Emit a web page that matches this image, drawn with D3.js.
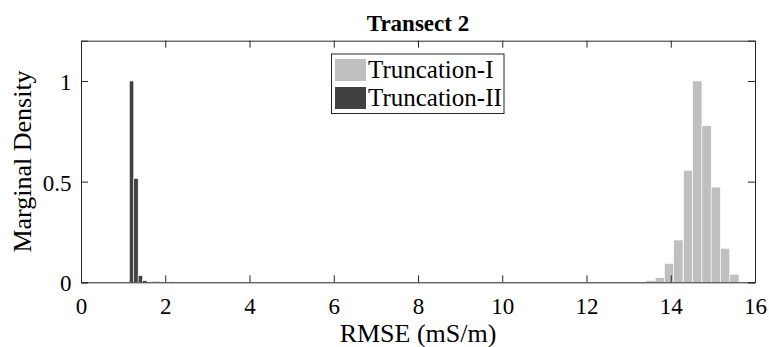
<!DOCTYPE html>
<html>
<head>
<meta charset="utf-8">
<script src="https://cdn.jsdelivr.net/npm/d3@7"></script>
<style>
  html, body { margin: 0; padding: 0; background: #fff; }
  svg { display: block; font-family: "Liberation Serif", "Times New Roman", serif; }
</style>
</head>
<body>
<svg id="chart" width="769" height="347"></svg>
<script>
// Histogram bins: left edge, width and marginal density of each bar
const truncIStart   = [1.68, 2.09, 13.41, 13.63, 13.85, 14.07, 14.30, 14.52, 14.74, 14.96, 15.18, 15.40];
const truncIWidth   = [0.20, 0.10, 0.221, 0.221, 0.221, 0.221, 0.221, 0.221, 0.221, 0.221, 0.221, 0.221];
const truncIDensity = [0.006, 0.005, 0.008, 0.023, 0.094, 0.21, 0.556, 1.0, 0.778, 0.473, 0.169, 0.04];

const truncIIStart   = [1.147, 1.252, 1.357, 1.462];
const truncIIWidth   = [0.105, 0.105, 0.105, 0.105];
const truncIIDensity = [1.0, 0.516, 0.033, 0.008];

const xTicks = [0, 2, 4, 6, 8, 10, 12, 14, 16];
const yTicks = [0, 0.5, 1];
const yTickLabels = ["0", "0.5", "1"];
const seriesNames = ["Truncation-I", "Truncation-II"];
const seriesColors = ["#bfbfbf", "#404040"];

const margin = { left: 81, right: 14, top: 40.7, bottom: 64.7 };
const W = 769, H = 347;
const svg = d3.select("#chart");

const x = d3.scaleLinear().domain([0, 16]).range([margin.left, W - margin.right]);
const y = d3.scaleLinear().domain([0, 1.2]).range([H - margin.bottom, margin.top]);

const axisColor = "#262626";
const tickLen = 7;
const serif = '"Liberation Serif", "Times New Roman", serif';

function bins(starts, widths, dens) {
  return starts.map((s, i) => ({ x0: s, x1: s + widths[i], d: dens[i] }));
}

// Bars
const groups = [
  bins(truncIStart, truncIWidth, truncIDensity),
  bins(truncIIStart, truncIIWidth, truncIIDensity)
];
groups.forEach((data, gi) => {
  svg.append("g").selectAll("rect").data(data).join("rect")
    .attr("x", d => x(d.x0))
    .attr("y", d => y(d.d))
    .attr("width", d => x(d.x1) - x(d.x0))
    .attr("height", d => y(0) - y(d.d))
    .attr("fill", seriesColors[gi])
    .attr("stroke", "#ffffff")
    .attr("stroke-width", 0.6);
});

// Axes (ticks point inward, mirrored on top and right)
const gx = svg.append("g").attr("transform", `translate(0,${y(0)})`)
  .call(d3.axisBottom(x).tickValues(xTicks).tickSize(-tickLen).tickFormat(d3.format("d")));
gx.selectAll(".tick text").attr("y", 32).attr("dy", 0);

const gxTop = svg.append("g").attr("transform", `translate(0,${y(1.2)})`)
  .call(d3.axisTop(x).tickValues(xTicks).tickSize(-tickLen).tickFormat(""));

const gy = svg.append("g").attr("transform", `translate(${x(0)},0)`)
  .call(d3.axisLeft(y).tickValues(yTicks).tickSize(-tickLen).tickFormat((d, i) => yTickLabels[i]));
gy.selectAll(".tick text").attr("x", -9.5).attr("dy", 0).attr("y", 8.5);

const gyRight = svg.append("g").attr("transform", `translate(${x(16)},0)`)
  .call(d3.axisRight(y).tickValues(yTicks).tickSize(-tickLen).tickFormat(""));

[gx, gxTop, gy, gyRight].forEach(g => {
  g.attr("font-family", serif).attr("font-size", 23);
  g.select(".domain").attr("stroke", axisColor).attr("stroke-width", 1);
  g.selectAll(".tick line").attr("stroke", axisColor).attr("stroke-width", 1);
  g.selectAll(".tick text").attr("fill", "#000");
});

// Axis labels and title
svg.append("text")
  .attr("x", (x(0) + x(16)) / 2).attr("y", 342)
  .attr("text-anchor", "middle").style("font-size", "26px")
  .text("RMSE (mS/m)");

svg.append("text")
  .attr("transform", `translate(31,${(y(0) + y(1.2)) / 2}) rotate(-90)`)
  .attr("text-anchor", "middle").style("font-size", "26px")
  .text("Marginal Density");

svg.append("text")
  .attr("x", (x(0) + x(16)) / 2).attr("y", 31)
  .attr("text-anchor", "middle").style("font-size", "23px").style("font-weight", "bold")
  .text("Transect 2");

// Legend
const lg = svg.append("g");
lg.append("rect").attr("x", 331.5).attr("y", 54).attr("width", 172.5).attr("height", 59.5)
  .attr("fill", "#fff").attr("stroke", axisColor).attr("stroke-width", 1);
seriesNames.forEach((name, i) => {
  const top = 59 + i * 28;
  lg.append("rect").attr("x", 335).attr("y", top).attr("width", 31).attr("height", 22)
    .attr("fill", seriesColors[i]);
  lg.append("text").attr("x", 368).attr("y", top + 19)
    .style("font-size", "25px").text(name);
});
</script>
</body>
</html>
